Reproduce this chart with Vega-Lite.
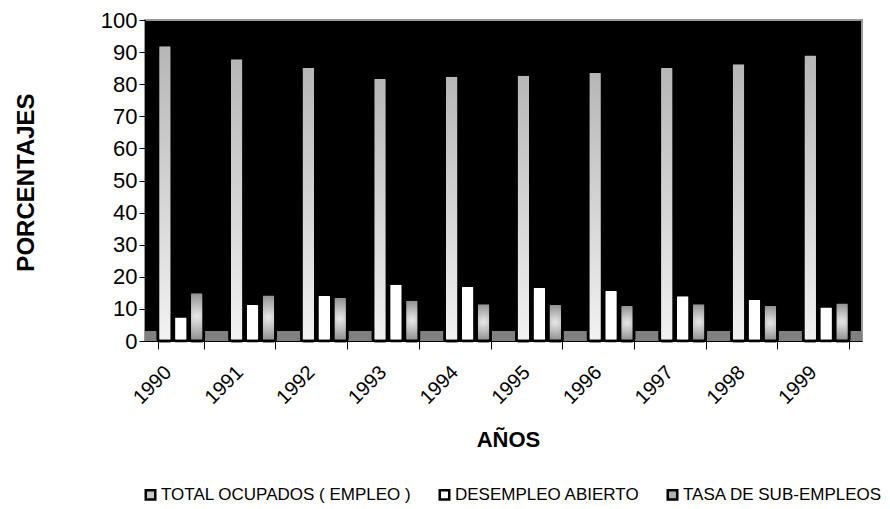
{
  "$schema": "https://vega.github.io/schema/vega-lite/v6.json",
  "autosize": {"type": "none"},
  "padding": {"left": 145, "top": 20, "right": 28, "bottom": 168},
  "width": 717,
  "height": 321,
  "background": "white",
  "config": {
    "font": "Liberation Sans",
    "view": {"fill": "black", "stroke": "#9a9a9a", "strokeWidth": 2}
  },
  "data": {
    "values": [
      {"year": "1990", "serie": "TOTAL OCUPADOS ( EMPLEO )", "value": 92.2},
      {"year": "1990", "serie": "DESEMPLEO ABIERTO", "value": 7.7},
      {"year": "1990", "serie": "TASA DE SUB-EMPLEOS", "value": 15.3},
      {"year": "1991", "serie": "TOTAL OCUPADOS ( EMPLEO )", "value": 88.2},
      {"year": "1991", "serie": "DESEMPLEO ABIERTO", "value": 11.6},
      {"year": "1991", "serie": "TASA DE SUB-EMPLEOS", "value": 14.6},
      {"year": "1992", "serie": "TOTAL OCUPADOS ( EMPLEO )", "value": 85.4},
      {"year": "1992", "serie": "DESEMPLEO ABIERTO", "value": 14.4},
      {"year": "1992", "serie": "TASA DE SUB-EMPLEOS", "value": 13.8},
      {"year": "1993", "serie": "TOTAL OCUPADOS ( EMPLEO )", "value": 82.0},
      {"year": "1993", "serie": "DESEMPLEO ABIERTO", "value": 17.9},
      {"year": "1993", "serie": "TASA DE SUB-EMPLEOS", "value": 12.9},
      {"year": "1994", "serie": "TOTAL OCUPADOS ( EMPLEO )", "value": 82.7},
      {"year": "1994", "serie": "DESEMPLEO ABIERTO", "value": 17.2},
      {"year": "1994", "serie": "TASA DE SUB-EMPLEOS", "value": 11.8},
      {"year": "1995", "serie": "TOTAL OCUPADOS ( EMPLEO )", "value": 83.0},
      {"year": "1995", "serie": "DESEMPLEO ABIERTO", "value": 16.9},
      {"year": "1995", "serie": "TASA DE SUB-EMPLEOS", "value": 11.6},
      {"year": "1996", "serie": "TOTAL OCUPADOS ( EMPLEO )", "value": 83.9},
      {"year": "1996", "serie": "DESEMPLEO ABIERTO", "value": 16.0},
      {"year": "1996", "serie": "TASA DE SUB-EMPLEOS", "value": 11.3},
      {"year": "1997", "serie": "TOTAL OCUPADOS ( EMPLEO )", "value": 85.4},
      {"year": "1997", "serie": "DESEMPLEO ABIERTO", "value": 14.3},
      {"year": "1997", "serie": "TASA DE SUB-EMPLEOS", "value": 11.8},
      {"year": "1998", "serie": "TOTAL OCUPADOS ( EMPLEO )", "value": 86.6},
      {"year": "1998", "serie": "DESEMPLEO ABIERTO", "value": 13.2},
      {"year": "1998", "serie": "TASA DE SUB-EMPLEOS", "value": 11.3},
      {"year": "1999", "serie": "TOTAL OCUPADOS ( EMPLEO )", "value": 89.3},
      {"year": "1999", "serie": "DESEMPLEO ABIERTO", "value": 10.8},
      {"year": "1999", "serie": "TASA DE SUB-EMPLEOS", "value": 12.1}
    ]
  },
  "encoding": {
    "x": {
      "field": "year", "type": "ordinal",
      "scale": {"paddingInner": 0.36, "paddingOuter": 0.18},
      "axis": {
        "title": "AÑOS", "titleFont": "Liberation Sans", "titleFontSize": 22, "titleFontWeight": "bold",
        "titleX": 363, "titleY": 98, "titleBaseline": "middle", "titleAlign": "center",
        "labelAngle": -45, "labelAlign": "right", "labelBaseline": "middle",
        "labelFontSize": 20, "labelColor": "black", "labelOffset": -13, "labelPadding": 20,
        "tickBand": "extent", "tickSize": 8, "tickColor": "black", "tickWidth": 1,
        "domainColor": "black", "domainWidth": 1
      }
    },
    "xOffset": {
      "field": "serie", "type": "nominal",
      "scale": {"domain": ["TOTAL OCUPADOS ( EMPLEO )", "DESEMPLEO ABIERTO", "TASA DE SUB-EMPLEOS"], "paddingInner": 0.12}
    },
    "y": {
      "field": "value", "type": "quantitative",
      "scale": {"domain": [0, 100], "nice": false},
      "axis": {
        "title": "PORCENTAJES", "titleFont": "Liberation Sans", "titleFontSize": 24, "titleFontWeight": "bold",
        "titleAngle": -90, "titleX": -119, "titleY": 162, "titleAlign": "center", "titleBaseline": "middle",
        "values": [0, 10, 20, 30, 40, 50, 60, 70, 80, 90, 100],
        "grid": false, "labelFontSize": 22, "labelColor": "black", "labelPadding": 2,
        "tickSize": 6, "tickColor": "black", "domainColor": "black"
      }
    }
  },
  "layer": [
    {
      "mark": {"type": "rect", "fill": "#808080"},
      "encoding": {"x": null, "xOffset": null, "y": {"datum": 0}, "y2": {"datum": 3}}
    },
    {
      "mark": {"type": "bar", "stroke": "black", "strokeWidth": 2.5, "cornerRadius": 2},
      "encoding": {
        "color": {
          "field": "serie", "type": "nominal",
          "scale": {"domain": ["TOTAL OCUPADOS ( EMPLEO )", "DESEMPLEO ABIERTO", "TASA DE SUB-EMPLEOS"], "range": ["#c8c8c8", "#ffffff", "#b0b0b0"]},
          "legend": {
            "orient": "none", "legendX": -3, "legendY": 466, "direction": "horizontal",
            "title": null, "symbolType": "square", "symbolSize": 90,
            "symbolStrokeColor": "black", "symbolStrokeWidth": 2.5, "symbolOpacity": 1,
            "labelFont": "Liberation Sans", "labelFontSize": 17, "labelColor": "black",
            "labelOffset": 2, "columnPadding": 22, "labelLimit": 400
          }
        }
      }
    },
    {
      "transform": [{"filter": "datum.serie == 'TOTAL OCUPADOS ( EMPLEO )'"}],
      "mark": {
        "type": "bar", "stroke": "black", "strokeWidth": 2.5, "cornerRadius": 2,
        "fill": {"gradient": "linear", "x1": 0, "y1": 0, "x2": 0, "y2": 1,
          "stops": [{"offset": 0, "color": "#b6b6b6"}, {"offset": 1, "color": "#f2f2f2"}]}
      }
    },
    {
      "transform": [{"filter": "datum.serie == 'TASA DE SUB-EMPLEOS'"}],
      "mark": {
        "type": "bar", "stroke": "black", "strokeWidth": 2.5, "cornerRadius": 2,
        "fill": {"gradient": "radial", "x1": 0.5, "y1": 0.5, "r1": 0, "x2": 0.5, "y2": 0.5, "r2": 0.6,
          "stops": [{"offset": 0, "color": "#e8e8e8"}, {"offset": 1, "color": "#7a7a7a"}]}
      }
    }
  ]
}
